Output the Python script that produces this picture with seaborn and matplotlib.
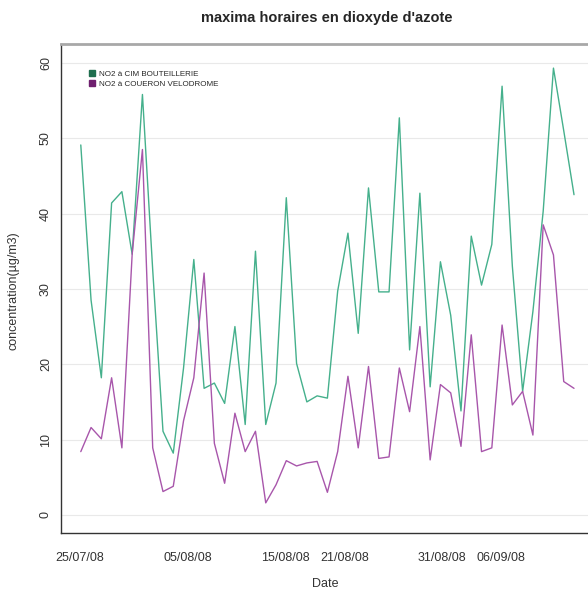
import numpy as np
import pandas as pd
import matplotlib
matplotlib.use("Agg")
import matplotlib.pyplot as plt
import matplotlib.dates as mdates
import seaborn as sns
from matplotlib.lines import Line2D

# ---- data ----
stations = ["NO2 à CIM BOUTEILLERIE", "NO2 à COUERON VELODROME"]
dates = pd.date_range("2008-07-25 02:00", "2008-09-13 11:00", periods=49)
bouteillerie = [49.1, 28.5, 18.2, 41.4, 42.9, 34.6, 55.8, 32.5, 11.1, 8.2,
                19.5, 33.9, 16.8, 17.5, 14.8, 25.0, 12.0, 35.0, 12.0, 17.5,
                42.1, 20.1, 15.0, 15.8, 15.5, 29.7, 37.4, 24.1, 43.4, 29.6,
                29.6, 52.7, 21.9, 42.7, 17.0, 33.6, 26.5, 13.8, 37.0, 30.5,
                35.9, 56.9, 33.0, 16.4, 27.0, 40.3, 59.3, 51.0, 42.5]
velodrome = [8.4, 11.6, 10.1, 18.2, 8.9, 34.6, 48.5, 8.9, 3.1, 3.8,
             12.5, 18.2, 32.1, 9.5, 4.2, 13.5, 8.4, 11.1, 1.6, 4.0,
             7.2, 6.5, 6.9, 7.1, 3.0, 8.4, 18.4, 8.9, 19.7, 7.5,
             7.7, 19.5, 13.7, 25.0, 7.3, 17.3, 16.2, 9.1, 23.9, 8.4,
             8.9, 25.2, 14.6, 16.4, 10.6, 38.5, 34.5, 17.7, 16.8]
tick_dates = ["2008-07-25", "2008-07-30", "2008-08-05", "2008-08-10", "2008-08-15",
              "2008-08-21", "2008-08-26", "2008-08-31", "2008-09-06", "2008-09-11"]
tick_labels = ["25/07/08", "", "05/08/08", "", "15/08/08",
               "21/08/08", "", "31/08/08", "06/09/08", ""]
y_ticks = [0, 10, 20, 30, 40, 50, 60]

df = pd.DataFrame({
    "Date": list(dates) * 2,
    "value": bouteillerie + velodrome,
    "station": [stations[0]] * len(dates) + [stations[1]] * len(dates),
})

# ---- style ----
sns.set_style("white")
plt.rcParams['font.family'] = ['Liberation Sans', 'DejaVu Sans']

line_colors = {stations[0]: "#45B08C", stations[1]: "#A856AB"}
legend_colors = ["#1F6E4E", "#6E1F6E"]

fig = plt.figure(figsize=(5.88, 5.91), dpi=100)
ax = fig.add_axes([61 / 588, 58 / 591, 533 / 588, 489 / 591])

sns.lineplot(data=df, x="Date", y="value", hue="station", palette=line_colors,
             ax=ax, legend=False, linewidth=1.0)

ax.set_ylim(-2.4, 62.5)
ax.set_xlim(pd.Timestamp("2008-07-23 01:30"), pd.Timestamp("2008-09-15 12:00"))

ax.set_yticks(y_ticks)
ax.set_yticklabels([str(v) for v in y_ticks], rotation=90, va="center", fontsize=9)
ax.set_xticks([pd.Timestamp(d) for d in tick_dates])
ax.set_xticklabels(tick_labels, fontsize=9)
ax.tick_params(axis="y", length=5, width=0.9, color="#333333", pad=1.5, labelcolor="#333333")
ax.tick_params(axis="x", length=5, width=0.9, color="#333333", pad=9, labelcolor="#333333")

ax.set_xlabel("")
ax.set_ylabel("")
ax.grid(axis="y", color="#E9E9E9", linewidth=0.8)
ax.grid(axis="x", visible=False)
ax.set_axisbelow(True)

for side in ["left", "bottom"]:
    ax.spines[side].set_color("#333333")
    ax.spines[side].set_linewidth(1.0)
ax.spines["top"].set_color("#A8A8A8")
ax.spines["top"].set_linewidth(2.0)
ax.spines["right"].set_visible(False)

handles = [Line2D([], [], marker="s", linestyle="", color=c, markersize=4.5)
           for c in legend_colors]
ax.legend(handles, stations, loc="upper left",
          bbox_to_anchor=(84 / 588, 1 - 66 / 591), bbox_transform=fig.transFigure,
          frameon=False, fontsize=5.8, borderpad=0, handlelength=1.0,
          handletextpad=0.4, labelspacing=0.3)

fig.text(327 / 588, 1 - 18 / 591, "maxima horaires en dioxyde d'azote",
         ha="center", va="center", fontsize=10.5, fontweight="bold")
fig.text(14 / 588, 1 - 291 / 591, "concentration(µg/m3)", rotation=90,
         ha="center", va="center", fontsize=9, color="#333333")
fig.text(325 / 588, 1 - 584 / 591, "Date", ha="center", va="center",
         fontsize=9, color="#333333")

fig.savefig("out.png", dpi=100)
